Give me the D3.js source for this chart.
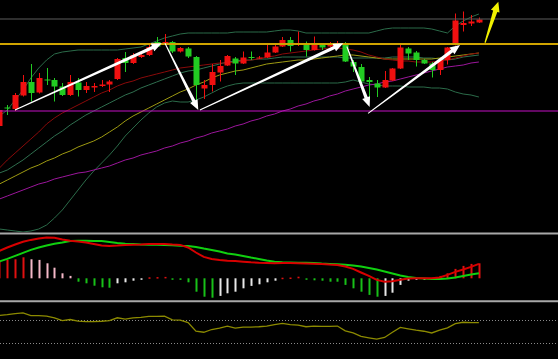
<!DOCTYPE html>
<html><head><meta charset="utf-8">
<script src="https://cdn.jsdelivr.net/npm/d3@7"></script>
<style>html,body{margin:0;padding:0;background:#000;overflow:hidden}</style>
</head><body><svg id="c" width="558" height="359"></svg>
<script>
// ---- data (index -1 is the partly hidden first bar) ----
const categories = d3.range(-1, 61);
const open  = [17.4,19.25,19.1,20.45,21.8,20.75,22.05,22.0,21.35,20.5,21.75,21.0,21.25,21.4,21.55,22.1,24.2,23.7,24.3,24.5,25.8,25.65,25.8,24.85,25.15,24.3,21.15,21.5,22.75,23.45,24.15,23.65,24.3,24.2,24.25,24.75,25.35,26.0,25.5,25.55,25.0,25.55,25.35,25.5,25.65,23.8,23.3,22.0,21.65,21.25,21.95,23.15,25.15,24.75,24.0,23.65,23.0,24.0,25.5,27.5,27.65,27.75];
const high  = [19.6,19.5,20.7,22.5,23.6,22.7,23.2,22.2,21.7,22.5,22.2,21.8,21.7,22.0,22.0,24.2,24.8,24.7,24.6,25.5,26.3,26.6,25.9,25.3,25.3,24.4,22.0,23.6,24.0,24.5,24.3,24.85,24.85,24.4,25.5,25.5,26.3,26.3,26.85,25.85,26.35,25.7,25.8,25.9,25.8,24.0,23.6,22.3,22.0,22.9,23.2,25.65,25.3,24.9,24.1,23.8,24.1,25.3,28.65,28.85,28.5,28.25];
const low   = [17.0,18.5,18.9,20.35,19.85,20.65,21.5,19.85,20.4,20.4,20.35,20.7,20.8,21.3,20.8,22.0,22.8,23.6,24.2,24.4,25.3,25.6,24.7,24.75,24.2,20.0,20.1,20.85,21.85,23.4,22.5,23.6,24.0,24.1,24.2,24.7,25.3,24.85,25.4,24.35,24.95,25.0,25.3,25.4,23.8,22.8,21.5,20.1,20.3,21.2,21.9,23.1,24.0,23.35,23.6,22.25,22.5,23.55,25.45,26.85,27.4,27.7];
const close = [19.0,19.15,20.5,21.8,20.7,22.2,21.95,21.35,20.5,21.8,21.0,21.4,21.4,21.55,21.85,24.1,23.7,24.5,24.5,25.3,25.35,25.8,24.85,25.2,24.35,21.5,21.5,22.8,23.4,24.4,23.65,24.25,24.25,24.25,24.75,25.35,26.0,25.4,25.65,25.0,25.55,25.25,25.65,25.7,23.85,23.35,21.85,21.8,21.25,22.0,23.15,25.25,24.65,24.0,23.65,23.0,24.0,25.25,27.95,27.7,27.85,28.05];

const maRed     = [13.2,14.0,14.7,15.4,16.1,16.8,17.6,18.2,18.7,19.1,19.5,19.9,20.3,20.7,21.0,21.4,21.7,21.9,22.2,22.4,22.6,22.8,23.0,23.2,23.3,23.4,23.5,23.6,23.7,23.7,23.8,23.9,24.0,24.1,24.3,24.4,24.6,24.7,24.8,24.9,25.0,25.1,25.2,25.2,25.1,25.0,24.8,24.5,24.3,24.1,24.0,23.9,23.9,23.8,23.8,23.8,23.9,24.0,24.2,24.4,24.6,24.7];
const maYellow  = [11.6,12.0,12.4,12.8,13.2,13.5,13.9,14.2,14.6,14.9,15.3,15.6,15.9,16.3,16.8,17.3,17.9,18.4,18.8,19.2,19.6,20.0,20.4,20.8,21.1,21.5,21.8,22.2,22.5,22.7,22.9,23.0,23.2,23.4,23.6,23.7,23.8,23.9,24.0,24.0,24.1,24.2,24.3,24.4,24.5,24.5,24.4,24.3,24.2,24.1,24.1,24.1,24.1,24.1,24.1,24.1,24.2,24.3,24.4,24.5,24.6,24.7];
const maMagenta = [10.1,10.4,10.7,11.0,11.3,11.6,11.8,12.1,12.3,12.5,12.7,12.8,13.0,13.2,13.4,13.7,14.0,14.2,14.5,14.7,14.9,15.2,15.4,15.7,15.9,16.2,16.4,16.7,16.9,17.1,17.4,17.6,17.9,18.1,18.4,18.6,18.9,19.1,19.4,19.6,19.9,20.1,20.4,20.6,20.9,21.1,21.3,21.5,21.6,21.8,21.9,22.1,22.3,22.5,22.7,22.9,23.1,23.3,23.4,23.5,23.7,23.8];
const bollUpper = [18.4,19.0,20.0,21.0,22.2,23.2,24.0,24.6,24.8,24.9,25.0,25.0,25.0,25.0,25.0,25.0,25.1,25.2,25.3,25.6,25.9,26.2,26.4,26.6,26.7,26.7,26.7,26.7,26.7,26.7,26.8,26.8,26.8,26.8,26.8,26.9,27.0,27.0,26.9,26.7,26.7,26.7,26.7,26.7,26.7,26.7,26.7,26.7,26.9,27.1,27.2,27.2,27.2,27.2,27.2,27.1,26.9,26.7,27.4,27.9,28.3,28.6];
const bollMid   = [12.7,13.0,13.5,14.0,14.6,15.2,15.8,16.4,16.9,17.5,18.0,18.5,18.9,19.3,19.7,20.1,20.5,20.8,21.2,21.5,21.8,22.1,22.4,22.7,22.9,23.0,23.2,23.4,23.6,23.8,23.9,24.0,24.0,24.1,24.1,24.2,24.3,24.3,24.3,24.3,24.3,24.3,24.3,24.3,24.2,24.2,24.2,24.2,24.2,24.2,24.3,24.3,24.3,24.3,24.2,24.2,24.1,24.0,24.1,24.3,24.4,24.5];
const bollLower = [7.1,7.0,6.9,6.8,6.9,7.1,7.5,8.2,9.0,10.0,11.0,12.0,12.9,13.7,14.5,15.4,16.4,17.2,18.0,18.7,19.3,19.7,19.9,19.8,19.8,20.0,20.3,20.7,21.1,21.4,21.6,21.7,21.7,21.7,21.7,21.7,21.7,21.7,21.7,21.7,21.7,21.7,21.7,21.7,21.8,22.0,21.8,21.6,21.5,21.4,21.4,21.4,21.3,21.3,21.3,21.2,21.2,21.1,20.8,20.6,20.5,20.3];

const macdDif  = [1.37,1.54,1.69,1.83,1.92,1.99,2.04,2.03,1.94,1.88,1.84,1.79,1.72,1.64,1.62,1.64,1.67,1.68,1.69,1.71,1.72,1.72,1.69,1.67,1.54,1.29,1.07,0.97,0.92,0.88,0.86,0.83,0.80,0.78,0.77,0.75,0.76,0.76,0.75,0.74,0.73,0.72,0.69,0.67,0.59,0.47,0.29,0.12,-0.08,-0.17,-0.15,-0.07,-0.01,0.0,0.0,0.0,0.04,0.17,0.32,0.44,0.57,0.72];
const macdDea  = [0.84,0.97,1.12,1.27,1.42,1.54,1.64,1.73,1.79,1.87,1.88,1.88,1.87,1.86,1.82,1.77,1.73,1.71,1.69,1.68,1.68,1.67,1.65,1.63,1.62,1.57,1.49,1.42,1.34,1.24,1.19,1.12,1.04,0.97,0.89,0.83,0.80,0.79,0.78,0.78,0.77,0.74,0.72,0.70,0.68,0.64,0.59,0.52,0.44,0.34,0.24,0.14,0.07,0.02,-0.01,-0.04,-0.04,-0.01,0.04,0.12,0.19,0.25];
const macdHist = [0.85,0.92,0.95,1.05,0.95,0.92,0.75,0.53,0.25,0.12,-0.17,-0.25,-0.37,-0.45,-0.47,-0.25,-0.20,-0.12,-0.05,0.05,0.06,0.07,-0.03,-0.08,-0.20,-0.67,-0.92,-0.97,-0.88,-0.75,-0.67,-0.50,-0.38,-0.30,-0.20,-0.12,0.03,0.04,0.08,-0.07,-0.10,-0.12,-0.17,-0.17,-0.33,-0.50,-0.67,-0.83,-0.92,-0.88,-0.72,-0.33,-0.12,-0.03,-0.02,0.02,0.12,0.25,0.47,0.62,0.72,0.75];

const oscLine  = [92,93.9,96.6,98.4,91.2,91.2,90.3,85.8,78.6,81.3,76.8,75.9,75.9,76.8,78.6,85.8,82.2,85.8,86.7,89.4,89.4,90.3,80.4,79.5,73.2,50.7,48.0,55.2,58.8,64.2,58.8,61.5,61.5,62.4,64.2,67.8,71.4,67.8,66.9,62.4,64.2,63.3,63.3,64.2,51.6,46.2,37.2,33.6,30.0,34.5,48.0,60.6,57.0,53.4,50.7,46.2,53.4,59.7,70.5,74.1,73.2,73.2];
const oscLevels = [80, 20];

const levelValues = [28.1, 25.6, 18.9];   // grey, gold, magenta horizontal lines
// trend arrows: [fromIndex, fromPrice, toIndex, toPrice]
const arrowFrom = [[0.98,19.0],[20.06,25.67],[24.5,19.0],[43.2,25.35],[45.9,18.67],[60.78,25.73]];
const arrowTo   = [[19.64,25.67],[24.3,19.0],[42.75,25.67],[46.1,19.3],[57.6,25.5],[62.47,29.83]];

// ---- drawing ----
const W = 558, H = 359;
const svg = d3.select('#c');
svg.append('rect').attr('width', W).attr('height', H).attr('fill', '#000');

const x = d3.scaleBand().domain(categories).range([-4.49, 482.83]);
const cx = c => x(c) + x.bandwidth() / 2;
const xi = d3.scaleLinear().domain([-1, 60]).range([cx(-1), cx(60)]);

const yMain = d3.scaleLinear().domain([6.8, 30]).range([232, 0]);
const yMacd = d3.scaleLinear().domain([-1.135, 2.215]).range([301, 234]);
const yOsc  = d3.scaleLinear().domain([20, 80]).range([343, 320]);

const defs = svg.append('defs');
defs.append('clipPath').attr('id', 'cpMain').append('rect').attr('x', 0).attr('y', 0).attr('width', W).attr('height', 232);
defs.append('clipPath').attr('id', 'cpMacd').append('rect').attr('x', 0).attr('y', 235).attr('width', W).attr('height', 65);

const main = svg.append('g').attr('clip-path', 'url(#cpMain)');

function lineOf(arr, yS) {
  return d3.line().x((d, i) => cx(categories[i])).y(d => yS(d))(arr);
}
const maDefs = [
  [bollUpper, '#2b6b49', 1],
  [bollLower, '#2b6b49', 1],
  [bollMid, '#2f6f4f', 1],
  [maMagenta, '#9c169c', 1],
  [maYellow, '#9e9a12', 1],
  [maRed, '#8a0a0a', 1]
];
maDefs.forEach(([arr, col, w]) => {
  main.append('path').attr('d', lineOf(arr, yMain)).attr('fill', 'none')
    .attr('stroke', col).attr('stroke-width', w);
});

// candles
const up = '#f01010', down = '#22cc22';
categories.forEach((c, i) => {
  const o = open[i], cl = close[i];
  const col = cl >= o ? up : down;
  const xc = Math.round(cx(c)) + 0.5;
  main.append('line').attr('x1', xc).attr('x2', xc)
    .attr('y1', yMain(high[i])).attr('y2', yMain(low[i]))
    .attr('stroke', col).attr('stroke-width', 1);
  const top = yMain(Math.max(o, cl)), bot = yMain(Math.min(o, cl));
  main.append('rect').attr('x', xc - 3).attr('width', 6)
    .attr('y', top).attr('height', Math.max(1, bot - top)).attr('fill', col);
});

// horizontal levels
const levelStyle = [['#5c5c5c', 1], ['#d0a400', 2], ['#c410c4', 1]];
levelValues.forEach((v, k) => {
  main.append('line').attr('x1', 0).attr('x2', W).attr('y1', yMain(v)).attr('y2', yMain(v))
    .attr('stroke', levelStyle[k][0]).attr('stroke-width', levelStyle[k][1]);
});

// arrows
function arrowPath(p0, p1, wTail, wShaft, headLen, headHalf) {
  const dx = p1[0] - p0[0], dy = p1[1] - p0[1];
  const L = Math.hypot(dx, dy), ux = dx / L, uy = dy / L, nx = -uy, ny = ux;
  const bx = p1[0] - ux * headLen, by = p1[1] - uy * headLen;
  const pts = [
    [p0[0] + nx * wTail, p0[1] + ny * wTail],
    [bx + nx * wShaft, by + ny * wShaft],
    [bx + nx * headHalf, by + ny * headHalf],
    p1,
    [bx - nx * headHalf, by - ny * headHalf],
    [bx - nx * wShaft, by - ny * wShaft],
    [p0[0] - nx * wTail, p0[1] - ny * wTail]
  ];
  return 'M' + pts.map(p => p.join(',')).join('L') + 'Z';
}
arrowFrom.forEach((f, k) => {
  const t = arrowTo[k];
  const p0 = [xi(f[0]), yMain(f[1])], p1 = [xi(t[0]), yMain(t[1])];
  const yellow = k === arrowFrom.length - 1;
  svg.append('path').attr('d', yellow ? arrowPath(p0, p1, 0.6, 2.2, 10, 4.5) : arrowPath(p0, p1, 0.5, 1.7, 10, 4.2))
    .attr('fill', yellow ? '#f0f000' : '#ffffff');
});

// separators
[233.5, 301.3].forEach(yy => {
  svg.append('line').attr('x1', 0).attr('x2', W).attr('y1', yy).attr('y2', yy)
    .attr('stroke', '#a8a8a8').attr('stroke-width', 2);
});

// MACD
const macd = svg.append('g').attr('clip-path', 'url(#cpMacd)');
categories.forEach((c, i) => {
  const v = macdHist[i], prev = i > 0 ? macdHist[i - 1] : v;
  let col;
  if (v >= 0) col = v >= prev ? '#e01010' : '#f4b8c8';
  else col = v <= prev ? '#18c018' : '#e8e8e8';
  const y0 = yMacd(0), y1 = yMacd(v);
  macd.append('rect').attr('x', Math.round(cx(c)) - 0.5).attr('width', 2)
    .attr('y', Math.min(y0, y1)).attr('height', Math.max(1.5, Math.abs(y1 - y0))).attr('fill', col);
});
macd.append('path').attr('d', lineOf(macdDea, yMacd)).attr('fill', 'none').attr('stroke', '#10d010').attr('stroke-width', 2);
macd.append('path').attr('d', lineOf(macdDif, yMacd)).attr('fill', 'none').attr('stroke', '#d80000').attr('stroke-width', 2);

// lower oscillator
oscLevels.forEach(v => {
  svg.append('line').attr('x1', 0).attr('x2', W).attr('y1', Math.round(yOsc(v)) + 0.5).attr('y2', Math.round(yOsc(v)) + 0.5)
    .attr('stroke', '#8a8a8a').attr('stroke-width', 1).attr('stroke-dasharray', '1,2');
});
svg.append('path').attr('d', lineOf(oscLine, yOsc)).attr('fill', 'none').attr('stroke', '#8c8a00').attr('stroke-width', 1.3);
</script></body></html>
